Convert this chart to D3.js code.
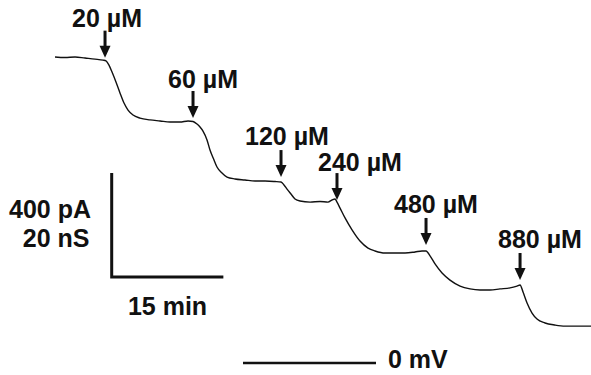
<!DOCTYPE html>
<html>
<head>
<meta charset="utf-8">
<script src="https://cdn.jsdelivr.net/npm/d3@7"></script>
<style>
  body { margin: 0; background: #fff; }
  text { font-family: "Liberation Sans", Arial, sans-serif; font-weight: bold; font-size: 25px; fill: #111; }
</style>
</head>
<body>
<div id="chart"></div>
<script>
// recorded current trace: time (min) vs. current relative to baseline (pA)
const time = [0, 1.34, 2.69, 4.03, 5.37, 6.45, 6.85, 7.25, 7.66, 8.19, 8.73, 9.27, 9.81, 10.48, 11.42,
  12.76, 14.11, 15.45, 16.79, 17.87, 18.54, 19.08, 19.48, 19.88, 20.42, 20.82, 21.36, 21.76, 22.43,
  23.11, 24.18, 25.52, 26.87, 28.21, 29.55, 30.36, 30.76, 31.17, 31.70, 32.24, 32.91, 34.26, 35.60,
  36.67, 37.21, 37.61, 37.88, 38.29, 38.96, 39.90, 40.97, 42.05, 42.99, 44.33, 45.67, 47.02, 48.36,
  49.30, 49.84, 50.38, 51.05, 51.99, 53.06, 54.41, 55.75, 57.09, 58.44, 59.78, 61.12, 62.06, 62.47,
  62.87, 63.41, 64.08, 64.75, 65.82, 67.17, 68.51, 69.85, 72.0];
const current = [0, -2, 0, -4, -8, -12, -15, -31, -58, -96, -138, -177, -204, -223, -235,
  -242, -246, -250, -250, -246, -248, -258, -269, -285, -319, -358, -396, -423, -446,
  -462, -469, -473, -477, -477, -479, -481, -492, -508, -527, -546, -554, -558, -556,
  -558, -550, -546, -558, -581, -619, -665, -708, -735, -746, -754, -754, -754, -750,
  -746, -746, -765, -796, -831, -858, -881, -892, -896, -896, -892, -888, -881, -877,
  -904, -946, -985, -1008, -1023, -1031, -1035, -1035, -1035];

// agonist applications
const eventTimes = [6.72, 18.54, 30.36, 37.88, 49.84, 62.47];
const eventLabels = ["20 µM", "60 µM", "120 µM", "240 µM", "480 µM", "880 µM"];

// scale bars
const barTime = 15;      // min
const barCurrent = 400;  // pA
const barCurrentLabel = "400 pA";
const barCondLabel = "20 nS";
const barTimeLabel = "15 min";
const holdingLabel = "0 mV";

// label placement (px)
const labelDx = [-33, -25, -36, -19, -32, -22];
const labelGap = [4, 3, 5, 2, 5, 5];
const tipGap = [3, 3.5, 5, 2, 6, 5];

const width = 591, height = 375;

const svg = d3.select("#chart").append("svg")
  .attr("width", width)
  .attr("height", height);

const x = d3.scaleLinear().domain([0, 72]).range([55, 591]);
const y = d3.scaleLinear().domain([0, -1100]).range([57, 343]);

const data = time.map((t, i) => ({ t: t, c: current[i] }));

// trace
svg.append("path")
  .datum(data)
  .attr("fill", "none")
  .attr("stroke", "#111")
  .attr("stroke-width", 1.4)
  .attr("stroke-linejoin", "round")
  .attr("d", d3.line().x(d => x(d.t)).y(d => y(d.c)).curve(d3.curveMonotoneX));

// current at a given time, interpolated along the trace
function currentAt(t) {
  let i = d3.bisector(d => d.t).left(data, t);
  if (i <= 0) return data[0].c;
  let a = data[i - 1], b = data[i];
  return a.c + (b.c - a.c) * (t - a.t) / (b.t - a.t);
}

const arrowLen = 27, headLen = 12, headW = 5.5;

eventTimes.forEach(function (t, i) {
  let ax = x(t);
  let tip = y(currentAt(t)) - tipGap[i];
  let top = tip - arrowLen;

  svg.append("line")
    .attr("x1", ax).attr("x2", ax)
    .attr("y1", top).attr("y2", tip - headLen + 1)
    .attr("stroke", "#111")
    .attr("stroke-width", 3);

  svg.append("path")
    .attr("d", `M${ax - headW},${tip - headLen}L${ax + headW},${tip - headLen}L${ax},${tip}Z`)
    .attr("fill", "#111");

  svg.append("text")
    .attr("x", ax + labelDx[i])
    .attr("y", top - labelGap[i])
    .text(eventLabels[i]);
});

// scale bars
const cornerX = 111.7, cornerY = 277;
const barH = y(-barCurrent) - y(0);
const barW = x(barTime) - x(0);

svg.append("path")
  .attr("d", `M${cornerX},${cornerY - barH}V${cornerY}H${cornerX + barW}`)
  .attr("fill", "none")
  .attr("stroke", "#111")
  .attr("stroke-width", 3);

svg.append("text")
  .attr("x", 91)
  .attr("y", 218)
  .attr("text-anchor", "end")
  .text(barCurrentLabel);

svg.append("text")
  .attr("x", 89.5)
  .attr("y", 247)
  .attr("text-anchor", "end")
  .text(barCondLabel);

svg.append("text")
  .attr("x", cornerX + barW / 2)
  .attr("y", 315)
  .attr("text-anchor", "middle")
  .text(barTimeLabel);

// holding potential
svg.append("line")
  .attr("x1", 243).attr("x2", 376)
  .attr("y1", 363).attr("y2", 363)
  .attr("stroke", "#111")
  .attr("stroke-width", 2.5);

svg.append("text")
  .attr("x", 388)
  .attr("y", 368)
  .text(holdingLabel);
</script>
</body>
</html>
